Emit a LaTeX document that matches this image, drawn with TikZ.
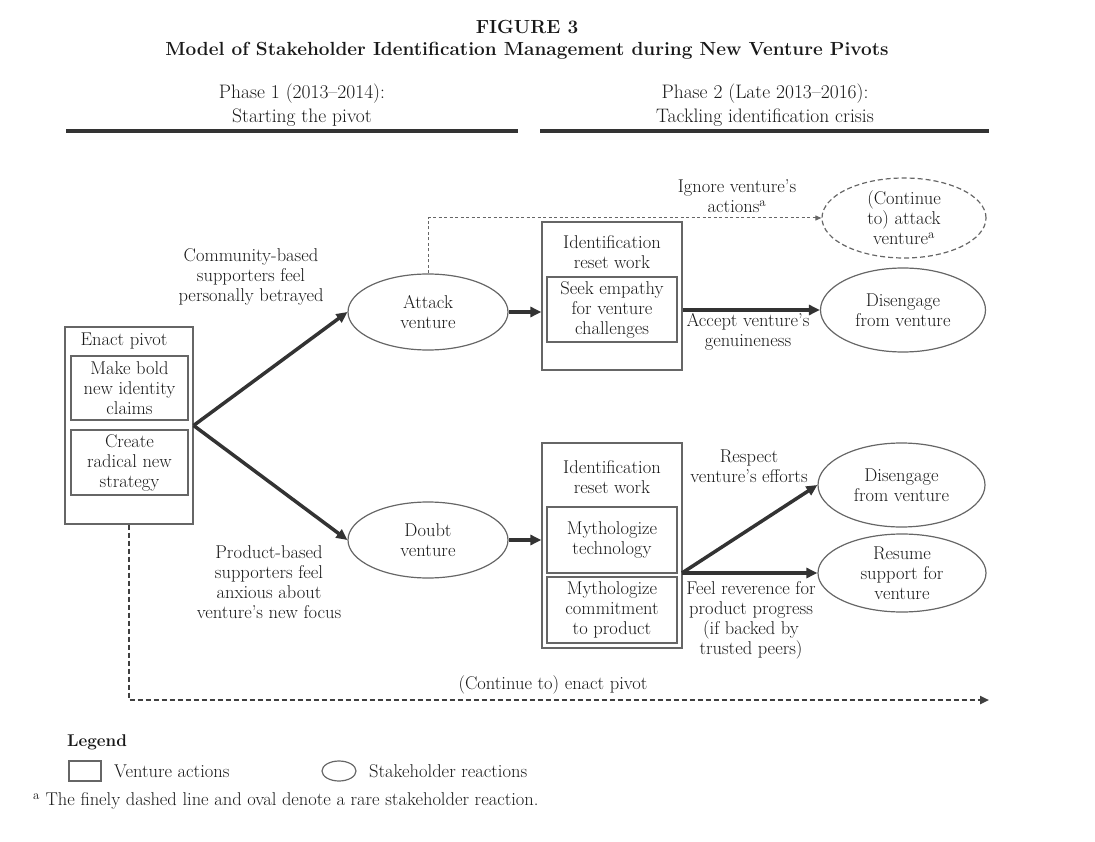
\documentclass[tikz,border=0pt]{standalone}
\usepackage{xcolor}
\usetikzlibrary{shapes.geometric, arrows.meta}

\begin{document}
\begin{tikzpicture}[
        x=1pt, y=-1pt,
        font=\fontsize{18.5}{20}\selectfont,
        every node/.style={text=black!90},
        actbox/.style={
            draw=black!60, line width=1.2pt, rectangle,
            minimum width=#1, inner sep=0pt, align=center,
          },
          actbox/.default=130pt,
        reaction/.style={
            draw=black!60, line width=1.2pt, ellipse,
            inner sep=0pt, align=center,
          },
        txt/.style={align=center, inner sep=0pt},
        bigarrow/.style={
            draw=black!80, line width=3.5pt,
            -{Triangle[length=11pt, width=10pt]},
          },
        rarearrow/.style={
            draw=black!60, line width=1pt, dash pattern=on 3pt off 2.5pt,
            -{Triangle[length=6pt, width=5pt]},
          },
        pivotarrow/.style={
            draw=black!75, line width=2.5pt, dash pattern=on 5pt off 3pt,
            -{Triangle[length=9pt, width=8pt]},
          },
        phaserule/.style={draw=black!80, line width=4pt},
    ]
    \useasboundingbox (0,0) rectangle (1095,842);

    % title and phases
    \node[txt, font=\bfseries\fontsize{19}{22}\selectfont] (fig) at (527,27) {FIGURE 3};
    \node[txt, font=\bfseries\fontsize{19}{22}\selectfont] (title) at (527,51)
        {Model of Stakeholder Identification Management during New Venture Pivots};
    \node[txt, font=\fontsize{19.5}{24}\selectfont] (phase1) at (302,105)
        {Phase 1 (2013--2014):\\Starting the pivot};
    \node[txt, font=\fontsize{19.5}{24}\selectfont] (phase2) at (765,105)
        {Phase 2 (Late 2013--2016):\\Tackling identification crisis};
    \draw[phaserule] (66,131) -- (518,131);
    \draw[phaserule] (540,131) -- (989,131);

    % venture actions, phase 1
    \node[actbox=128pt, minimum height=197pt] (enact) at (129,425.5) {};
    \node[txt] (enacttitle) at (124,341) {Enact pivot};
    \node[actbox=117pt, minimum height=64pt] (claims) at (129.5,388) {Make bold\\new identity\\claims};
    \node[actbox=117pt, minimum height=65pt] (strategy) at (129.5,462.5) {Create\\radical new\\strategy};

    % stakeholder reactions, phase 1
    \node[reaction, minimum width=160pt, minimum height=76pt] (attack) at (428,312) {Attack\\venture};
    \node[reaction, minimum width=160pt, minimum height=76pt] (doubt) at (428,540) {Doubt\\venture};

    % identification reset work
    \node[actbox=140pt, minimum height=148pt] (reset1) at (612,296) {};
    \node[txt] (reset1title) at (612,252) {Identification\\reset work};
    \node[actbox=130pt, minimum height=65pt] (empathy) at (612,309.5) {Seek empathy\\for venture\\challenges};

    \node[actbox=140pt, minimum height=205pt] (reset2) at (612,545.5) {};
    \node[txt] (reset2title) at (612,477) {Identification\\reset work};
    \node[actbox=130pt, minimum height=66pt] (techno) at (612,540) {Mythologize\\technology};
    \node[actbox=130pt, minimum height=66pt] (commit) at (612,610) {Mythologize\\commitment\\to product};

    % stakeholder reactions, phase 2
    \node[reaction, dash pattern=on 5pt off 3pt, minimum width=164pt, minimum height=80pt] (contattack) at (904,218)
        {(Continue\\to) attack\\venture\textsuperscript{a}};
    \node[reaction, minimum width=165pt, minimum height=84pt] (disengage1) at (903,310) {Disengage\\from venture};
    \node[reaction, minimum width=167pt, minimum height=84pt] (disengage2) at (901.5,485) {Disengage\\from venture};
    \node[reaction, minimum width=168pt, minimum height=78pt] (resume) at (902,573) {Resume\\support for\\venture};

    % connectors
    \draw[bigarrow] (enact.east) -- (attack.west);
    \draw[bigarrow] (enact.east) -- (doubt.west);
    \draw[bigarrow] (attack.east) -- (attack.east -| reset1.west);
    \draw[bigarrow] (doubt.east) -- (doubt.east -| reset2.west);
    \draw[bigarrow] (reset1.east |- disengage1.west) -- (disengage1.west);
    \coordinate (split) at (682,573);
    \draw[bigarrow] (split) -- (disengage2.west);
    \draw[bigarrow] (split) -- (resume.west);
    \draw[rarearrow] (attack.north) |- (contattack.west);
    \coordinate (pivotend) at (989,700);
    \draw[pivotarrow] (enact.south) |- (pivotend);

    % connector labels
    \node[txt] (betrayed) at (251,277) {Community-based\\supporters feel\\personally betrayed};
    \node[txt] (anxious) at (269,582) {Product-based\\supporters feel\\anxious about\\venture's new focus};
    \node[txt] (ignore) at (737,196) {Ignore venture's\\actions\textsuperscript{a}};
    \node[txt] (accept) at (748,332) {Accept venture's\\genuineness};
    \node[txt] (respect) at (749,466) {Respect\\venture's efforts};
    \node[txt] (reverence) at (751,620) {Feel reverence for\\product progress\\(if backed by\\trusted peers)};
    \node[txt] (continue) at (553,685) {(Continue to) enact pivot};

    % legend
    \node[txt, anchor=west, font=\bfseries\fontsize{17}{20}\selectfont] (legend) at (67,742) {Legend};
    \node[actbox=32pt, minimum height=20pt] (legbox) at (85,771) {};
    \node[txt, anchor=west] (legboxtxt) at (114,771) {Venture actions};
    \node[reaction, minimum width=34pt, minimum height=20pt] (legoval) at (339,771) {};
    \node[txt, anchor=west] (legovaltxt) at (369,771) {Stakeholder reactions};
    \node[txt, anchor=west] (note) at (33,801)
        {\textsuperscript{a} The finely dashed line and oval denote a rare stakeholder reaction.};
\end{tikzpicture}
\end{document}
